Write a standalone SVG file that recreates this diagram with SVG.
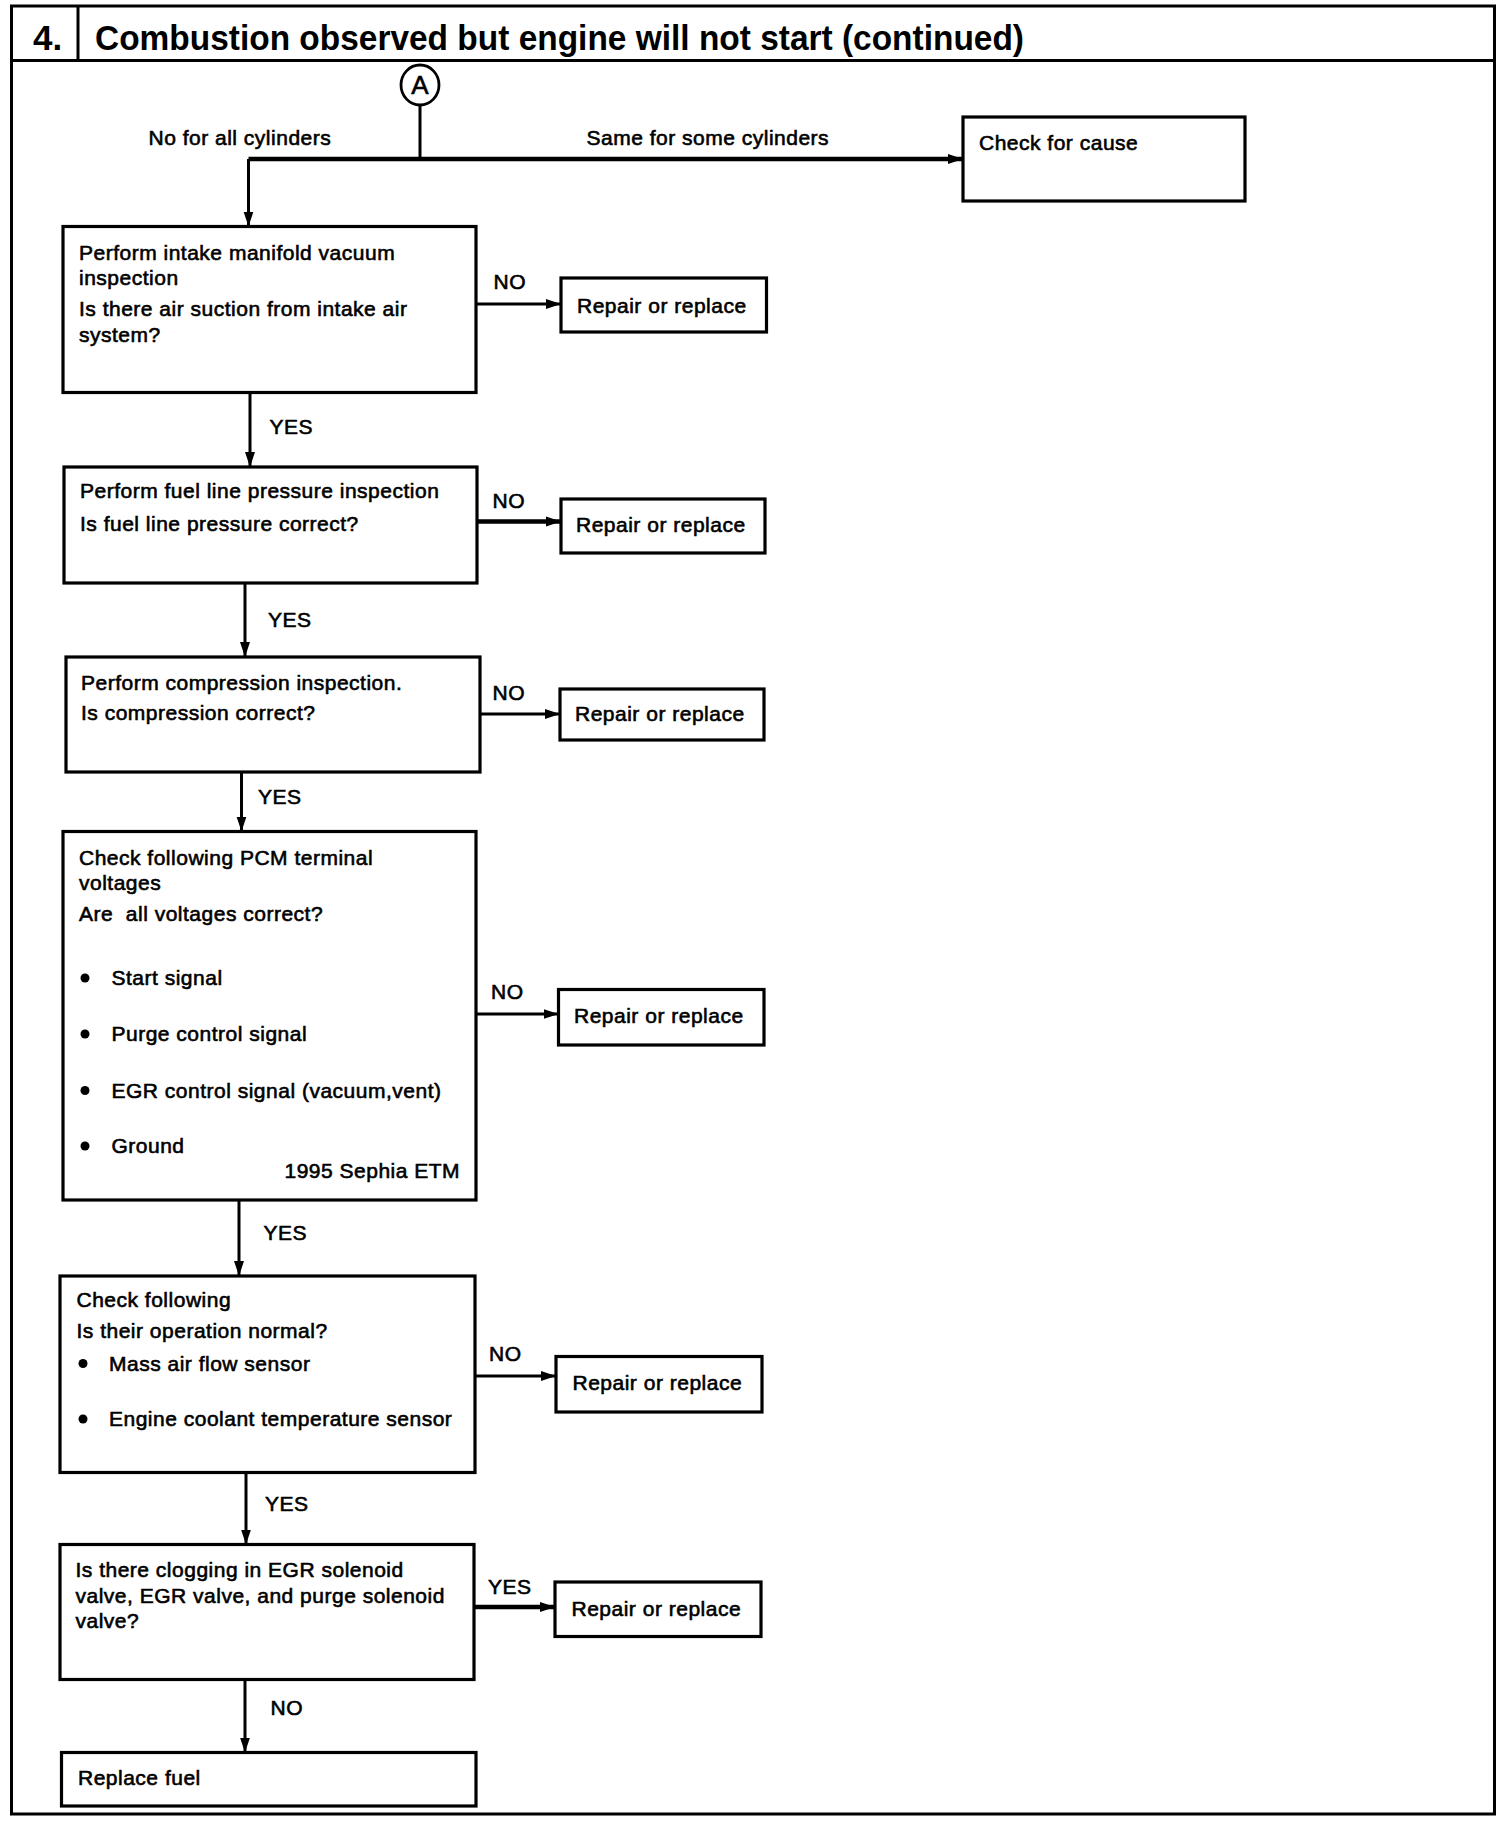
<svg xmlns="http://www.w3.org/2000/svg" width="1504" height="1824" viewBox="0 0 1504 1824">
<style>
.t{font-family:"Liberation Sans",Arial,sans-serif;font-size:21px;letter-spacing:0.5px;fill:#000;stroke:#000;stroke-width:0.6}
.ttl{font-family:"Liberation Sans",Arial,sans-serif;font-size:35px;font-weight:bold;fill:#000}
.box{fill:#fff;stroke:#000;stroke-width:3.2}
.ln{fill:none;stroke:#000;stroke-width:3}
.thk{fill:none;stroke:#000;stroke-width:4.5}
</style>
<defs>
<marker id="ah" viewBox="0 0 15 11" refX="15" refY="5.5" markerWidth="15" markerHeight="11" markerUnits="userSpaceOnUse" orient="auto">
<path d="M0,0.5 L15,5.5 L0,10.5 z" fill="#000"/>
</marker>
</defs>
<rect width="1504" height="1824" fill="#fff"/>
<g id="frame">
<rect x="11.5" y="6" width="1483" height="1808" fill="none" stroke="#000" stroke-width="3"/>
<line x1="11.5" y1="60.5" x2="1494.5" y2="60.5" stroke="#000" stroke-width="3"/>
<line x1="78" y1="6" x2="78" y2="60.5" stroke="#000" stroke-width="3"/>
<text class="ttl" x="33" y="50">4.</text>
<text class="ttl" x="95" y="50" textLength="929" lengthAdjust="spacingAndGlyphs">Combustion observed but engine will not start (continued)</text>
</g>
<g id="connectors">
<line class="ln" x1="420" y1="104.5" x2="420" y2="159"/>
<line class="thk" x1="248.5" y1="159" x2="963" y2="159" marker-end="url(#ah)"/>
<line class="ln" x1="248.5" y1="159" x2="248.5" y2="226.5" marker-end="url(#ah)"/>
<line class="ln" x1="476" y1="304" x2="561" y2="304" marker-end="url(#ah)"/>
<line class="ln" x1="250" y1="392.5" x2="250" y2="467" marker-end="url(#ah)"/>
<line class="thk" x1="477" y1="521.5" x2="561" y2="521.5" marker-end="url(#ah)"/>
<line class="ln" x1="245" y1="583" x2="245" y2="657" marker-end="url(#ah)"/>
<line class="ln" x1="480" y1="714" x2="560" y2="714" marker-end="url(#ah)"/>
<line class="ln" x1="241.5" y1="772" x2="241.5" y2="831.5" marker-end="url(#ah)"/>
<line class="ln" x1="476" y1="1014" x2="558.5" y2="1014" marker-end="url(#ah)"/>
<line class="ln" x1="239" y1="1200" x2="239" y2="1276" marker-end="url(#ah)"/>
<line class="ln" x1="475" y1="1376" x2="556" y2="1376" marker-end="url(#ah)"/>
<line class="ln" x1="246" y1="1472.5" x2="246" y2="1544.5" marker-end="url(#ah)"/>
<line class="thk" x1="474" y1="1607" x2="555" y2="1607" marker-end="url(#ah)"/>
<line class="ln" x1="245" y1="1679.5" x2="245" y2="1752.5" marker-end="url(#ah)"/>
<text class="t" x="148.5" y="145">No for all cylinders</text>
<text class="t" x="586.5" y="145">Same for some cylinders</text>
<text class="t" x="493.5" y="289">NO</text>
<text class="t" x="269.5" y="434">YES</text>
<text class="t" x="492.5" y="507.5">NO</text>
<text class="t" x="268" y="627">YES</text>
<text class="t" x="492.5" y="700">NO</text>
<text class="t" x="258" y="804">YES</text>
<text class="t" x="491" y="999">NO</text>
<text class="t" x="263.5" y="1240">YES</text>
<text class="t" x="489" y="1361">NO</text>
<text class="t" x="265" y="1511">YES</text>
<text class="t" x="488" y="1593.5">YES</text>
<text class="t" x="270.5" y="1715">NO</text>
</g>
<g id="connectorA">
<ellipse cx="420" cy="85" rx="19" ry="20" fill="#fff" stroke="#000" stroke-width="2.8"/>
<text x="420" y="94" text-anchor="middle" font-family="Liberation Sans, Arial, sans-serif" font-size="26" stroke="#000" stroke-width="0.6">A</text>
</g>
<g id="checkCause">
<rect class="box" x="963" y="117" width="282" height="84"/>
<text class="t" x="979" y="150">Check for cause</text>
</g>
<g id="box1">
<rect class="box" x="63" y="226.5" width="413" height="166"/>
<text class="t" x="79" y="260">Perform intake manifold vacuum</text>
<text class="t" x="79" y="284.5">inspection</text>
<text class="t" x="79" y="316">Is there air suction from intake air</text>
<text class="t" x="79" y="341.5">system?</text>
</g>
<g id="repair1">
<rect class="box" x="561" y="278" width="205.5" height="54"/>
<text class="t" x="577" y="312.5">Repair or replace</text>
</g>
<g id="box2">
<rect class="box" x="64" y="467" width="413" height="116"/>
<text class="t" x="80" y="498">Perform fuel line pressure inspection</text>
<text class="t" x="80" y="531">Is fuel line pressure correct?</text>
</g>
<g id="repair2">
<rect class="box" x="561" y="499" width="204" height="54"/>
<text class="t" x="576" y="532">Repair or replace</text>
</g>
<g id="box3">
<rect class="box" x="66" y="657" width="414" height="115"/>
<text class="t" x="81" y="690">Perform compression inspection.</text>
<text class="t" x="81" y="720">Is compression correct?</text>
</g>
<g id="repair3">
<rect class="box" x="560" y="689" width="204" height="51"/>
<text class="t" x="575" y="721">Repair or replace</text>
</g>
<g id="box4">
<rect class="box" x="63" y="831.5" width="413" height="368.5"/>
<text class="t" x="79" y="865">Check following PCM terminal</text>
<text class="t" x="79" y="890">voltages</text>
<text class="t" x="79" y="921" xml:space="preserve">Are  all voltages correct?</text>
<circle cx="85" cy="978" r="4.5"/>
<text class="t" x="111.5" y="985">Start signal</text>
<circle cx="85" cy="1034" r="4.5"/>
<text class="t" x="111.5" y="1041">Purge control signal</text>
<circle cx="85" cy="1090.5" r="4.5"/>
<text class="t" x="111.5" y="1097.5">EGR control signal (vacuum,vent)</text>
<circle cx="85" cy="1146" r="4.5"/>
<text class="t" x="111.5" y="1153">Ground</text>
<text class="t" x="284.5" y="1178">1995 Sephia ETM</text>
</g>
<g id="repair4">
<rect class="box" x="558.5" y="989.5" width="205.5" height="55.5"/>
<text class="t" x="574" y="1023">Repair or replace</text>
</g>
<g id="box5">
<rect class="box" x="60" y="1276" width="415" height="196.5"/>
<text class="t" x="76.5" y="1306.5">Check following</text>
<text class="t" x="76.5" y="1338">Is their operation normal?</text>
<circle cx="83" cy="1363.5" r="4.5"/>
<text class="t" x="109" y="1370.5">Mass air flow sensor</text>
<circle cx="83" cy="1419" r="4.5"/>
<text class="t" x="109" y="1426">Engine coolant temperature sensor</text>
</g>
<g id="repair5">
<rect class="box" x="556" y="1356.5" width="206" height="55.5"/>
<text class="t" x="572.5" y="1390">Repair or replace</text>
</g>
<g id="box6">
<rect class="box" x="60" y="1544.5" width="414" height="135"/>
<text class="t" x="75.5" y="1577">Is there clogging in EGR solenoid</text>
<text class="t" x="75.5" y="1603">valve, EGR valve, and purge solenoid</text>
<text class="t" x="75.5" y="1628">valve?</text>
</g>
<g id="repair6">
<rect class="box" x="555" y="1582" width="206" height="54.5"/>
<text class="t" x="571.5" y="1615.5">Repair or replace</text>
</g>
<g id="box7">
<rect class="box" x="61.5" y="1752.5" width="414.5" height="53.5"/>
<text class="t" x="78" y="1785">Replace fuel</text>
</g>
</svg>
